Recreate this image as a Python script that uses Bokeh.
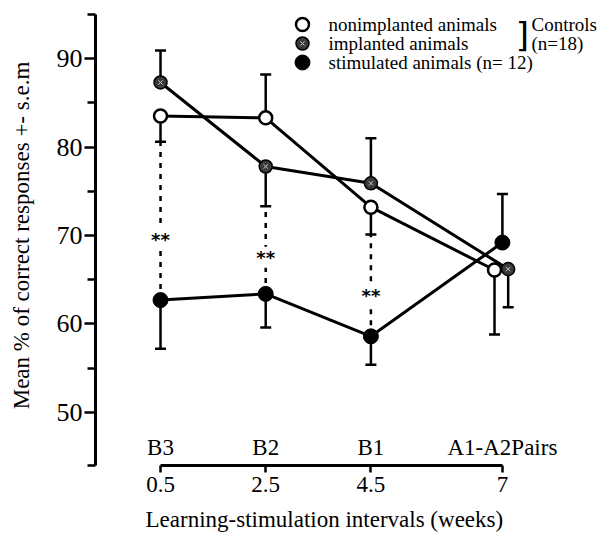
from bokeh.plotting import figure
from bokeh.models import Range1d, FixedTicker, Title
from bokeh.core.properties import value
from bokeh.embed import file_html
from bokeh.resources import INLINE

# ---------------- data ----------------
week_ticks = [0.5, 2.5, 4.5, 7]
week_tick_labels = ["0.5", "2.5", "4.5", "7"]
phase_labels = ["B3", "B2", "B1", "A1-A2Pairs"]

nonimp_x = [0.5, 2.5, 4.5, 6.85]
nonimp_mean = [83.5, 83.3, 73.2, 66.1]
nonimp_bar = [80.6, 88.2, 70.1, 58.8]

imp_x = [0.5, 2.5, 4.5, 7.11]
imp_mean = [87.3, 77.8, 75.9, 66.2]
imp_bar = [90.9, 73.3, 81.0, 61.9]

stim_x = [0.5, 2.5, 4.5, 7.0]
stim_mean = [62.7, 63.4, 58.6, 69.2]
stim_bar = [57.2, 59.6, 55.4, 74.7]

sig_x = [0.5, 2.5, 4.5]
sig_y = [70.0, 68.0, 63.7]
sig_text = ["**", "**", "**"]

y_major = [50, 60, 70, 80, 90]
y_minor = [44, 55, 65, 75, 85, 95]

legend_labels = ["nonimplanted animals", "implanted animals", "stimulated animals  (n= 12)"]

# ---------------- layout ----------------
FONT = "Liberation Serif"
W, H = 602, 542
LB, RB, TB, BB = 95, 2, 5, 77
X0, X1 = -0.736, 8.865
Y0, Y1 = 44.0, 96.0
FW, FH = W - LB - RB, H - TB - BB


def dx(px):
    return X0 + (px - LB) * (X1 - X0) / FW


def dy(py):
    return Y0 + (TB + FH - py) * (Y1 - Y0) / FH


p = figure(width=W, height=H, x_range=Range1d(X0, X1), y_range=Range1d(Y0, Y1),
           output_backend="svg", toolbar_location=None,
           min_border_left=LB, min_border_right=RB, min_border_top=TB, min_border_bottom=BB)
p.xgrid.visible = False
p.ygrid.visible = False
p.outline_line_color = None
p.background_fill_color = "white"

# y axis
ya = p.yaxis[0]
ya.bounds = (44, 95)
ya.ticker = FixedTicker(ticks=y_major, minor_ticks=y_minor)
ya.axis_line_width = 3
ya.major_tick_line_width = 2.5
ya.minor_tick_line_width = 2.5
ya.major_tick_in = 0
ya.major_tick_out = 11
ya.minor_tick_in = 0
ya.minor_tick_out = 8
ya.major_label_text_font = FONT
ya.major_label_text_font_size = "26px"
ya.major_label_text_color = "black"
ya.major_label_standoff = 2
ya.axis_label = "Mean % of correct responses +- s.e.m"
ya.axis_label_text_font = FONT
ya.axis_label_text_font_size = "23px"
ya.axis_label_text_font_style = "normal"
ya.axis_label_text_color = "black"
ya.axis_label_standoff = 20

# x axis
xa = p.xaxis[0]
xa.bounds = (0.5, 7)
xa.ticker = FixedTicker(ticks=week_ticks, minor_ticks=[])
xa.major_label_overrides = {t: s for t, s in zip(week_ticks, week_tick_labels)}
xa.axis_line_width = 3
xa.major_tick_line_width = 2.5
xa.major_tick_in = 0
xa.major_tick_out = 7
xa.minor_tick_line_color = None
xa.major_label_text_font = FONT
xa.major_label_text_font_size = "23px"
xa.major_label_text_color = "black"
xa.major_label_standoff = 4

xtitle = Title(text="Learning-stimulation intervals (weeks)", align="left", offset=50,
               text_font=FONT, text_font_size="23px", text_font_style="normal",
               text_color="black", standoff=20)
p.add_layout(xtitle, "below")

# phase labels above x axis
p.text(x=week_ticks, y=[Y0] * len(week_ticks), text=phase_labels, text_font=value(FONT),
       text_font_size="23px", text_align="center", text_baseline="middle", y_offset=-18,
       text_color="black")

# significance dashed connectors
sig_top = []
for i in range(len(sig_x)):
    lo_n = min(nonimp_mean[i], nonimp_bar[i])
    lo_i = min(imp_mean[i], imp_bar[i])
    sig_top.append(min(lo_n, lo_i))
p.segment(x0=sig_x, y0=stim_mean[:3], x1=sig_x, y1=sig_top, line_color="black",
          line_width=2.5, line_dash="5 6")
p.text(x=sig_x, y=sig_y, text=sig_text, text_font=value("DejaVu Sans"), text_font_style="bold",
       text_font_size="18px", text_align="center", text_baseline="middle", y_offset=4,
       background_fill_color="white", text_color="black")

# error bars
for xs, ms, bs in ((nonimp_x, nonimp_mean, nonimp_bar), (imp_x, imp_mean, imp_bar),
                   (stim_x, stim_mean, stim_bar)):
    p.segment(x0=xs, y0=ms, x1=xs, y1=bs, line_color="black", line_width=2.5)
    p.scatter(x=xs, y=bs, marker="dash", size=11, line_color="black", line_width=2.5)

# lines
p.line(nonimp_x, nonimp_mean, line_color="black", line_width=3)
p.line(imp_x, imp_mean, line_color="black", line_width=3)
p.line(stim_x, stim_mean, line_color="black", line_width=3)

# markers


def open_marker(xs, ys):
    p.scatter(x=xs, y=ys, marker="circle", size=13, fill_color="white", line_color="black",
              line_width=2.5)


def imp_marker(xs, ys):
    p.scatter(x=xs, y=ys, marker="circle", size=13, fill_color="#3a3a3a", line_color="black",
              line_width=1.5)
    p.scatter(x=xs, y=ys, marker="x", size=6, line_color="#c8c8c8", line_width=1)


def stim_marker(xs, ys):
    p.scatter(x=xs, y=ys, marker="circle", size=15, fill_color="black", line_color="black")


open_marker(nonimp_x, nonimp_mean)
imp_marker(imp_x, imp_mean)
stim_marker(stim_x, stim_mean)

# legend (layout positions in pixels, mapped to data space)
rows_py = [24, 43, 62]
key_px, text_px = 302, 328
open_marker([dx(key_px)], [dy(rows_py[0])])
imp_marker([dx(key_px)], [dy(rows_py[1])])
stim_marker([dx(key_px)], [dy(rows_py[2])])
p.text(x=[dx(text_px)] * 3, y=[dy(r) for r in rows_py], text=legend_labels, text_font=value(FONT),
       text_font_size="19px", text_align="left", text_baseline="middle", text_color="black")
p.text(x=[dx(522)], y=[dy(34)], text=["]"], text_font=value("DejaVu Sans"),
       text_font_size="34px", text_align="center", text_baseline="middle", text_color="black")
p.text(x=[dx(531)] * 2, y=[dy(rows_py[0]), dy(rows_py[1])], text=["Controls", "(n=18)"],
       text_font=value(FONT), text_font_size="19px", text_align="left", text_baseline="middle",
       text_color="black")

open("out.html", "w").write(file_html(p, INLINE))
